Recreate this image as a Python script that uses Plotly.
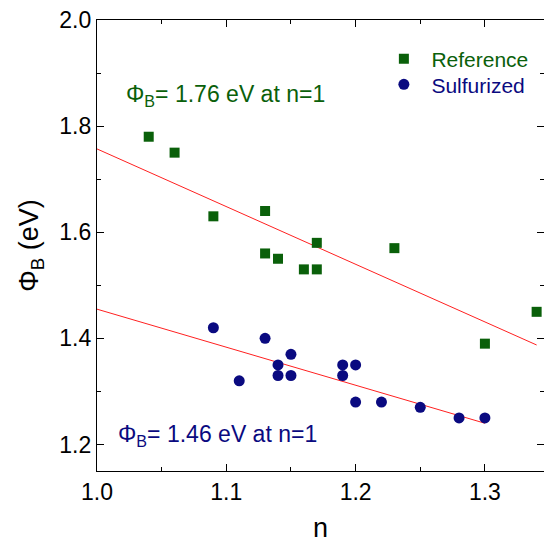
import plotly.graph_objects as go

# Data
ref_n = [1.04, 1.06, 1.09, 1.13, 1.13, 1.14, 1.16, 1.17, 1.17, 1.23, 1.34, 1.30]
ref_phi = [1.78, 1.75, 1.63, 1.64, 1.56, 1.55, 1.53, 1.53, 1.58, 1.57, 1.45, 1.39]

sul_n = [1.09, 1.13, 1.11, 1.14, 1.14, 1.15, 1.15, 1.19, 1.19, 1.20, 1.20, 1.22, 1.25, 1.28, 1.30]
sul_phi = [1.42, 1.40, 1.32, 1.35, 1.33, 1.37, 1.33, 1.35, 1.33, 1.35, 1.28, 1.28, 1.27, 1.25, 1.25]

fit_ref_n = [1.0, 1.34]
fit_ref_phi = [1.757, 1.3875]
fit_sul_n = [1.0, 1.30]
fit_sul_phi = [1.455, 1.24]

GREEN = "#0a600a"
NAVY = "#0a0a80"
FONT = "Arial, Liberation Sans, sans-serif"

fig = go.Figure()
fig.add_trace(go.Scatter(x=fit_ref_n, y=fit_ref_phi, mode="lines",
                         line=dict(color="#ff2020", width=1), showlegend=False))
fig.add_trace(go.Scatter(x=fit_sul_n, y=fit_sul_phi, mode="lines",
                         line=dict(color="#ff2020", width=1), showlegend=False))
fig.add_trace(go.Scatter(x=ref_n, y=ref_phi, mode="markers", legend="legend",
                         name=f"<span style='color:{GREEN}'>Reference</span>",
                         marker=dict(symbol="square", size=10, color=GREEN)))
fig.add_trace(go.Scatter(x=sul_n, y=sul_phi, mode="markers", legend="legend2",
                         name=f"<span style='color:{NAVY}'>Sulfurized</span>",
                         marker=dict(symbol="circle", size=11, color=NAVY)))
# invisible trace to carry the right-side ticks
fig.add_trace(go.Scatter(x=[], y=[], yaxis="y2", showlegend=False))

fig.add_annotation(x=1.021, y=1.857, xref="x", yref="y", xanchor="left", yanchor="middle",
                   text="Φ<sub>B</sub>= 1.76 eV at n=1", showarrow=False,
                   font=dict(family=FONT, size=23, color=GREEN))
fig.add_annotation(x=1.0145, y=1.2164, xref="x", yref="y", xanchor="left", yanchor="middle",
                   text="Φ<sub>B</sub>= 1.46 eV at n=1", showarrow=False,
                   font=dict(family=FONT, size=23, color=NAVY))

legend_common = dict(xanchor="left", yanchor="top", font=dict(family=FONT, size=21),
                     bgcolor="rgba(0,0,0,0)", itemwidth=45)
yr = [1.15, 2.0]
fig.update_layout(
    width=544, height=547,
    margin=dict(l=97, r=0, t=20, b=76),
    paper_bgcolor="white", plot_bgcolor="white",
    font=dict(family=FONT, color="black"),
    showlegend=True,
    legend=dict(x=0.625, y=0.959, **legend_common),
    legend2=dict(x=0.625, y=0.902, **legend_common),
    xaxis=dict(range=[1.0, 1.3457], dtick=0.1, tick0=1.0, tickformat=".1f",
               showline=True, linecolor="black", linewidth=1.3, mirror="ticks",
               ticks="inside", ticklen=7, tickcolor="black", tickwidth=1.3,
               minor=dict(dtick=0.05, ticks="inside", ticklen=4, tickcolor="black"),
               showgrid=False, zeroline=False,
               tickfont=dict(size=23),
               title=dict(text="n", font=dict(size=27), standoff=14)),
    yaxis=dict(range=yr, dtick=0.2, tick0=1.2, tickformat=".1f",
               showline=True, linecolor="black", linewidth=1.3, mirror=False,
               ticks="inside", ticklen=7, tickcolor="black", tickwidth=1.3,
               minor=dict(dtick=0.1, ticks="inside", ticklen=4, tickcolor="black"),
               showgrid=False, zeroline=False,
               tickfont=dict(size=23),
               title=dict(text="Φ<sub>B</sub> (eV)", font=dict(size=27), standoff=12)),
    yaxis2=dict(range=yr, overlaying="y", side="right", dtick=0.2, tick0=1.2,
                showline=False, showticklabels=False,
                ticks="inside", ticklen=7, tickcolor="black", tickwidth=1.3,
                minor=dict(dtick=0.1, ticks="inside", ticklen=4, tickcolor="black"),
                showgrid=False, zeroline=False),
)

fig.write_html("out.html", config={"displayModeBar": False},
               post_script="document.body.style.margin='0';")
